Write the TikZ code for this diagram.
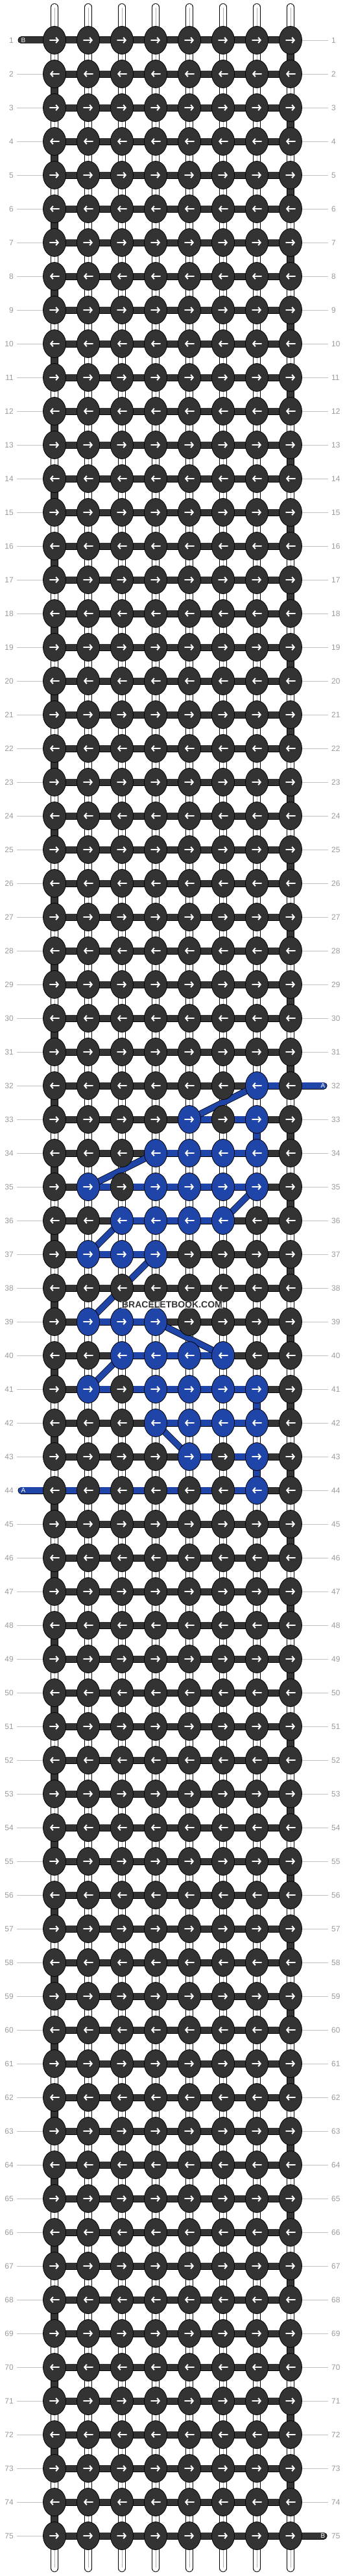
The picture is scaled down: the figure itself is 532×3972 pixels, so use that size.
\documentclass[tikz,border=0pt]{standalone}
\usepackage{fontspec}
\setsansfont{Liberation Sans}
\usetikzlibrary{shapes.geometric,arrows.meta,calc}

\pgfdeclarelayer{threads}
\pgfsetlayers{threads,main}

\definecolor{threadB}{HTML}{333333}
\definecolor{threadA}{HTML}{2045A8}
\definecolor{rownum}{HTML}{9A9A9A}
\definecolor{rowline}{HTML}{C2C2C2}
\definecolor{strandmid}{HTML}{B0B0B0}

\newcommand\markthread[3]{\expandafter\gdef\csname #1-#2-#3\endcsname{}}

\begin{document}
\begin{tikzpicture}[
		x=1pt, y=-1pt,
		knotnode/.style={ellipse, draw=black, line width=0.8pt, minimum width=35pt, minimum height=43pt, inner sep=0pt},
		knotarrow/.style={white, line width=2pt, line cap=round, -{Straight Barb[length=3.5pt,width=8.5pt]}},
		knotR/.style={path picture={\draw[knotarrow] ([xshift=-7pt]path picture bounding box.center) -- ([xshift=7pt]path picture bounding box.center);}},
		knotL/.style={path picture={\draw[knotarrow] ([xshift=7pt]path picture bounding box.center) -- ([xshift=-7pt]path picture bounding box.center);}},
		strand/.style={draw=black, double=white, line width=0.8pt, double distance=10pt, line cap=round},
		strandcore/.style={strandmid, line width=0.8pt, shorten <=1pt, shorten >=1pt},
		threadbar/.style={draw=black, double=#1, line width=0.8pt, double distance=9.4pt},
		threadturn/.style={draw=black, double=#1, line width=0.8pt, double distance=10pt},
		threadskip/.style={draw=black, double=#1, line width=0.8pt, double distance=8.6pt},
		threadtail/.style={draw=black, double=#1, line width=0.8pt, double distance=9.4pt, line cap=round},
		taillab/.style={text=white, font=\sffamily\fontsize{10}{10}\selectfont, inner sep=0pt},
		rowlab/.style={text=rownum, font=\sffamily\fontsize{12}{12}\selectfont, inner xsep=5pt},
		rowrule/.style={rowline, line width=0.9pt},
		watermark/.style={text=threadB, font=\sffamily\bfseries\fontsize{14}{14}\selectfont, fill=white, fill opacity=0.45, text opacity=1, inner sep=1pt}
		]
		\useasboundingbox (0,0) rectangle (532,3972);
		
		% blue knots
		\foreach \r/\cs in {32/{7},33/{5,7},34/{4,5,6,7},35/{2,4,5,6,7},36/{3,4,5,6},37/{2,3,4},39/{2,3,4},40/{3,4,5,6},41/{2,4,5,6,7},42/{4,5,6,7},43/{5,7},44/{7}}
			{\foreach \c in \cs {\markthread{bk}{\r}{\c}}}
		% blue bars (left knot of each bar)
		\foreach \r/\cs in {32/{7},33/{5,6},34/{4,5,6},35/{2,3,4,5,6},36/{3,4,5},37/{2,3},39/{2,3},40/{3,4,5},41/{2,3,4,5,6},42/{4,5,6},43/{5,6},44/{1,2,3,4,5,6}}
			{\foreach \c in \cs {\markthread{bs}{\r}{\c}}}
		
		% the knots
		\foreach \r in {1,...,75}{
			\foreach \c in {1,...,8}{
				\ifcsname bk-\r-\c\endcsname \def\kcol{threadA}\else\def\kcol{threadB}\fi
				\ifodd\r \def\kdir{knotR}\else\def\kdir{knotL}\fi
				\node[knotnode, fill=\kcol, \kdir] (k-\r-\c) at ({32+52*\c},{10+52*\r}) {};
			}
		}
		
		% strand ends and thread ends
		\foreach \c in {1,...,8}{
			\coordinate (top-\c) at ({32+52*\c},11);
			\coordinate (bot-\c) at ({32+52*\c},3960);
		}
		\coordinate (endB-top) at (33,62);
		\coordinate (endB-bot) at (499,3910);
		\coordinate (endA-top) at (499,1674);
		\coordinate (endA-bot) at (33,2298);
		
		\begin{pgfonlayer}{threads}
			% white strands
			\foreach \c in {1,...,8}{
				\draw[strand] (top-\c) -- (bot-\c);
				\draw[strandcore] (top-\c) -- (bot-\c);
			}
			% the working thread going down at the edges
			\foreach \r in {1,...,74}{
				\pgfmathtruncatemacro\rn{\r+1}
				\ifodd\r \def\tc{8}\else\def\tc{1}\fi
				\draw[threadturn=threadB] (k-\r-\tc.center) -- (k-\rn-\tc.center);
			}
			\foreach \r in {33,41,43}{
				\pgfmathtruncatemacro\rn{\r+1}
				\draw[threadturn=threadA] (k-\r-7.center) -- (k-\rn-7.center);
			}
			% bars along the rows
			\foreach \r in {1,...,75}{
				\foreach \c in {1,...,7}{
					\pgfmathtruncatemacro\cn{\c+1}
					\ifcsname bs-\r-\c\endcsname \def\bcol{threadA}\else\def\bcol{threadB}\fi
					\draw[threadbar=\bcol] (k-\r-\c.center) -- (k-\r-\cn.center);
				}
			}
			% loose ends
			\draw[threadtail=threadB] (endB-top) -- (k-1-1.center);
			\draw[threadtail=threadB] (endB-bot) -- (k-75-8.center);
			\draw[threadtail=threadA] (endA-top) -- (k-32-8.center);
			\draw[threadtail=threadA] (endA-bot) -- (k-44-1.center);
			% blue thread carried behind
			\foreach \ra/\ca/\rb/\cb in {32/7/33/5,34/4/35/2,35/7/36/6,36/3/37/2,37/4/39/2,39/4/40/6,40/3/41/2,42/4/43/5}
				\draw[threadskip=threadA] (k-\ra-\ca.center) -- (k-\rb-\cb.center);
		\end{pgfonlayer}
		
		\node[taillab] (labB-top) at (36,62) {B};
		\node[taillab] (labB-bot) at (498,3910) {B};
		\node[taillab] (labA-top) at (498,1674) {A};
		\node[taillab] (labA-bot) at (36,2298) {A};
		
		% row numbers
		\foreach \r in {1,...,75}{
			\node[rowlab, anchor=east] (ln-\r) at (26,{10+52*\r}) {\r};
			\node[rowlab, anchor=west] (rn-\r) at (506,{10+52*\r}) {\r};
			\ifnum\r=1\relax\else\ifnum\r=44\relax\else\draw[rowrule] (k-\r-1) -- (ln-\r);\fi\fi
			\ifnum\r=32\relax\else\ifnum\r=75\relax\else\draw[rowrule] (k-\r-8) -- (rn-\r);\fi\fi
		}
		
		\node[watermark] (wm) at (265.5,2012) {BRACELETBOOK.COM};
	\end{tikzpicture}
\end{document}
